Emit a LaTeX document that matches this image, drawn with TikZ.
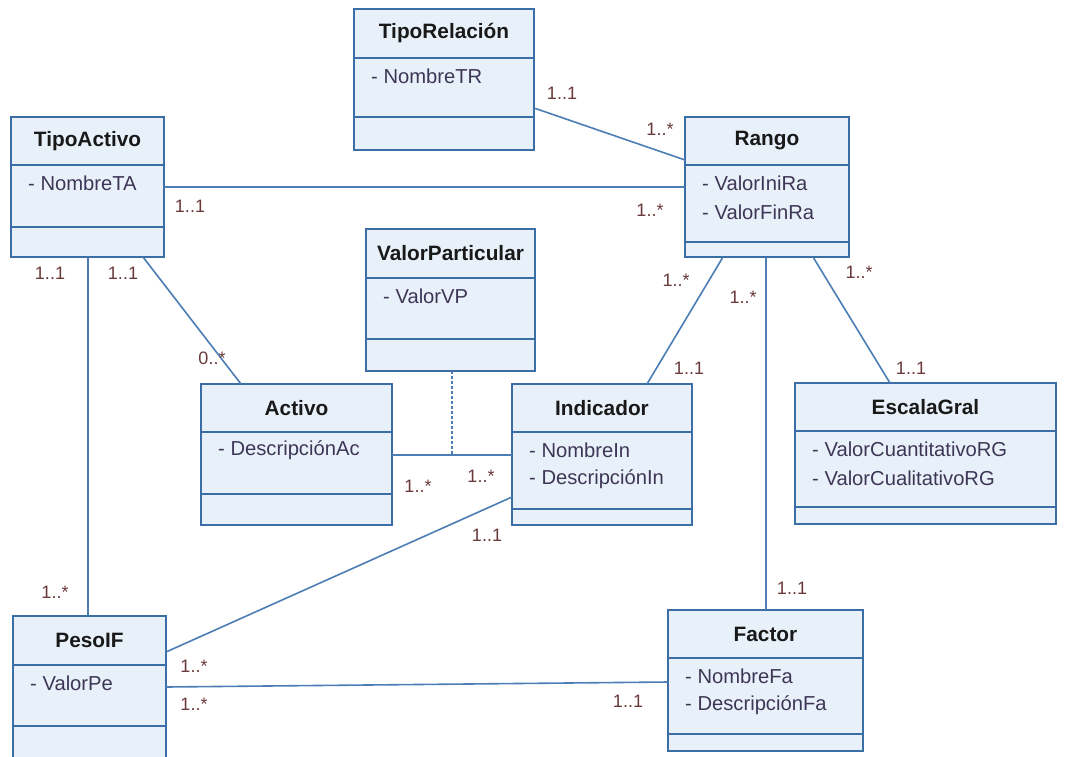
\documentclass[tikz,border=0pt]{standalone}
\usepackage{fontspec}
\setmainfont{Liberation Sans}
\usetikzlibrary{fit}
\definecolor{boxfill}{HTML}{E8F1FA}
\definecolor{boxdraw}{HTML}{3B6EA5}
\definecolor{conn}{HTML}{4C7DB5}
\definecolor{attrcol}{HTML}{3E3656}
\definecolor{multcol}{HTML}{6A3A3A}
\tikzset{
  clsbox/.style={draw=boxdraw, fill=boxfill, line width=2.2pt, inner sep=0pt, outer sep=0pt},
  clsline/.style={draw=boxdraw, line width=2.2pt},
  clstitle/.style={font=\fontsize{20.8}{22}\selectfont\bfseries, text=black!90, inner sep=0pt},
  clsattr/.style={font=\fontsize{20.2}{22}\selectfont, text=attrcol, anchor=west, inner sep=0pt},
  assoc/.style={draw=conn, line width=1.6pt},
  assocdash/.style={draw=conn, line width=1.6pt, dash pattern=on 3pt off 2pt},
  mult/.style={font=\fontsize{18}{20}\selectfont, text=multcol, inner sep=0pt}
}
\newcommand\umlclass[9]{%
  \node[clsbox, fit={(#2,#3)(#4,#5)}] (#1) {};
  \draw[clsline] (#2,#6) -- (#4,#6) (#2,#7) -- (#4,#7);
  \node[clstitle] (#1-title) at ({(#2+#4)/2},{(#3+#6)/2}) {#8};
  \foreach \a [count=\i] in {#9} {\node[clsattr] (#1-attr\i) at ({#2+17},{#6+18.5+29*(\i-1)}) {- \a};}
}
\begin{document}
\begin{tikzpicture}[x=1pt,y=-1pt]
\useasboundingbox[fill=white] (0,0) rectangle (1068,756);

\umlclass{tiporel}{354}{9}{534}{150}{58}{117}{TipoRelación}{NombreTR}
\umlclass{tipoact}{11}{117}{164}{257}{165}{227}{TipoActivo}{NombreTA}
\umlclass{rango}{685}{117}{849}{257}{165}{242}{Rango}{ValorIniRa,ValorFinRa}
\umlclass{valpart}{366}{229}{535}{371}{278}{339}{ValorParticular}{ValorVP}
\umlclass{activo}{201}{384}{392}{525}{432}{494}{Activo}{DescripciónAc}
\umlclass{indic}{512}{384}{692}{525}{432}{509}{Indicador}{NombreIn,DescripciónIn}
\umlclass{escala}{795}{383}{1056}{524}{431}{507}{EscalaGral}{ValorCuantitativoRG,ValorCualitativoRG}
\umlclass{pesoif}{13}{616}{166}{760}{665}{726}{PesoIF}{ValorPe}
\umlclass{factor}{668}{610}{863}{751}{658}{734}{Factor}{NombreFa,DescripciónFa}

% connectors
\draw[assoc] ([yshift=-99pt]tiporel.north east) -- ([yshift=-43pt]rango.north west);
\draw[assoc] ([yshift=-70pt]tipoact.north east) -- ([yshift=-70pt]rango.north west);
\draw[assoc] ([xshift=77pt]tipoact.south west) -- ([xshift=75pt]pesoif.north west);
\draw[assoc] ([xshift=132pt]tipoact.south west) -- ([xshift=40pt]activo.north west);
\draw[assoc] ([yshift=-71pt]activo.north east) -- ([yshift=-71pt]indic.north west);
\coordinate (acmid) at (452,455);
\draw[assocdash] ([xshift=86pt]valpart.south west) -- (acmid);
\draw[assoc] ([yshift=-113pt]indic.north west) -- ([yshift=-36pt]pesoif.north east);
\draw[assoc] ([yshift=-71pt]pesoif.north east) -- ([yshift=-72pt]factor.north west);
\draw[assoc] ([xshift=38pt]rango.south west) -- ([xshift=135pt]indic.north west);
\draw[assoc] ([xshift=81pt]rango.south west) -- ([xshift=98pt]factor.north west);
\draw[assoc] ([xshift=128pt]rango.south west) -- ([xshift=95pt]escala.north west);

% multiplicities
\node[mult] (m1) at (562,93) {1..1};
\node[mult] (m2) at (660,129) {1..*};
\node[mult] (m3) at (190,206) {1..1};
\node[mult] (m4) at (650,210) {1..*};
\node[mult] (m5) at (50,273) {1..1};
\node[mult] (m6) at (123,273) {1..1};
\node[mult] (m7) at (212,358) {0..*};
\node[mult] (m8) at (418,486) {1..*};
\node[mult] (m9) at (481,476) {1..*};
\node[mult] (m10) at (487,535) {1..1};
\node[mult] (m11) at (55,592) {1..*};
\node[mult] (m12) at (194,666) {1..*};
\node[mult] (m13) at (194,704) {1..*};
\node[mult] (m14) at (628,701) {1..1};
\node[mult] (m15) at (792,588) {1..1};
\node[mult] (m16) at (676,280) {1..*};
\node[mult] (m17) at (743,297) {1..*};
\node[mult] (m18) at (859,272) {1..*};
\node[mult] (m19) at (689,368) {1..1};
\node[mult] (m20) at (911,368) {1..1};
\end{tikzpicture}
\end{document}
